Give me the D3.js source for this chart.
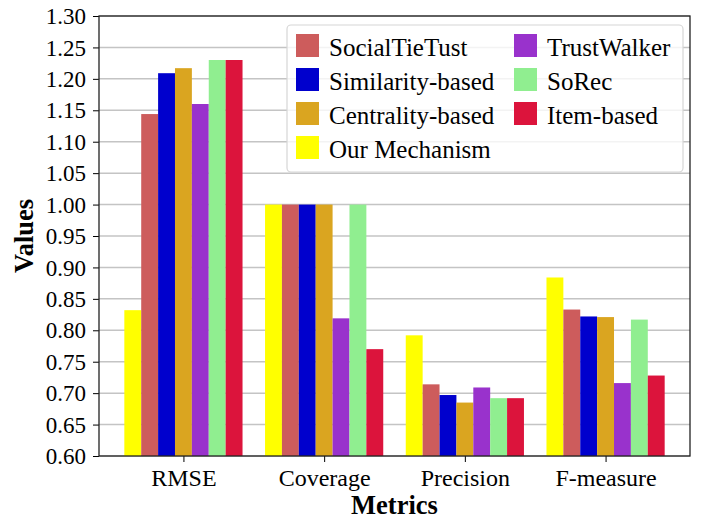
<!DOCTYPE html>
<html><head><meta charset="utf-8">
<script src="https://cdn.jsdelivr.net/npm/d3@7"></script>
<style>body{margin:0;background:#fff}svg{display:block}</style>
</head><body>
<svg id="c" width="710" height="519"></svg>
<script>
const categories = ["RMSE", "Coverage", "Precision", "F-measure"];
const seriesNames = ["Our Mechanism", "SocialTieTust", "Similarity-based", "Centrality-based", "TrustWalker", "SoRec", "Item-based"];
const seriesColors = ["#ffff00", "#cd5c5c", "#0000cd", "#daa520", "#9932cc", "#90ee90", "#dc143c"];
const ourMechanism   = [0.832, 1.000, 0.792, 0.884];
const socialTieTust  = [1.144, 1.000, 0.714, 0.833];
const similarity     = [1.209, 1.000, 0.697, 0.822];
const centrality     = [1.217, 1.000, 0.685, 0.821];
const trustWalker    = [1.160, 0.819, 0.709, 0.716];
const soRec          = [1.230, 1.000, 0.692, 0.817];
const itemBased      = [1.230, 0.770, 0.692, 0.728];
const seriesValues = [ourMechanism, socialTieTust, similarity, centrality, trustWalker, soRec, itemBased];
const legendOrder = ["SocialTieTust", "Similarity-based", "Centrality-based", "Our Mechanism", "TrustWalker", "SoRec", "Item-based"];
const yTicks = [0.60,0.65,0.70,0.75,0.80,0.85,0.90,0.95,1.00,1.05,1.10,1.15,1.20,1.25,1.30];

const svg = d3.select("#c");
const L = 99, R = 690, T = 16, B = 456;
const barW = 0.12;
const x = d3.scaleLinear().domain([-0.6, 3.6]).range([L, R]);
const y = d3.scaleLinear().domain([0.6, 1.3]).range([B, T]);
const font = "'Liberation Serif','Times New Roman',serif";

// grid
svg.append("g").selectAll("line").data(yTicks).join("line")
  .attr("x1", L).attr("x2", R).attr("y1", d => y(d)).attr("y2", d => y(d))
  .attr("stroke", "#c4c4c4").attr("stroke-width", 1.5);

// bars
const bars = [];
seriesValues.forEach((vals, s) => vals.forEach((v, i) => bars.push({s, i, v})));
svg.append("g").selectAll("rect").data(bars).join("rect")
  .attr("x", d => x(d.i + (d.s - 3) * barW - barW / 2))
  .attr("width", d => x(barW) - x(0))
  .attr("y", d => y(d.v))
  .attr("height", d => B - y(d.v))
  .attr("fill", d => seriesColors[d.s]);

// axes
const yAxis = svg.append("g").attr("transform", `translate(${L},0)`)
  .call(d3.axisLeft(y).tickValues(yTicks).tickFormat(d3.format(".2f")).tickSize(6).tickPadding(7));
const xAxis = svg.append("g").attr("transform", `translate(0,${B})`)
  .call(d3.axisBottom(x).tickValues(d3.range(categories.length)).tickFormat(i => categories[i]).tickSize(6).tickPadding(6));
[yAxis, xAxis].forEach(a => {
  a.select(".domain").remove();
  a.selectAll("text").attr("font-family", font).attr("fill", "#000");
  a.selectAll("line").attr("stroke", "#000").attr("stroke-width", 1);
});
yAxis.selectAll("text").attr("font-size", 23).attr("dy", "0.33em");
xAxis.selectAll("text").attr("font-size", 24).attr("y", 29.7).attr("dy", 0);
// frame
svg.append("rect").attr("x", L).attr("y", T).attr("width", R - L).attr("height", B - T)
  .attr("fill", "none").attr("stroke", "#222").attr("stroke-width", 1.3);

// axis titles
svg.append("text").attr("x", (L + R) / 2).attr("y", 514).attr("text-anchor", "middle")
  .attr("font-family", font).attr("font-weight", "bold").attr("font-size", 26.5).text("Metrics");
svg.append("text").attr("transform", `translate(33,${(T + B) / 2}) rotate(-90)`).attr("text-anchor", "middle")
  .attr("font-family", font).attr("font-weight", "bold").attr("font-size", 26.5).text("Values");

// legend
const lg = svg.append("g");
lg.append("rect").attr("x", 287).attr("y", 25).attr("width", 396).attr("height", 147).attr("rx", 4)
  .attr("fill", "#fff").attr("fill-opacity", 0.8).attr("stroke", "#d6d6d6").attr("stroke-width", 1.2);
legendOrder.forEach((name, k) => {
  const col = k < 4 ? 0 : 1, row = k < 4 ? k : k - 4;
  const gx = col === 0 ? 296 : 514, gy = 34 + row * 34;
  const s = seriesNames.indexOf(name);
  lg.append("rect").attr("x", gx).attr("y", gy).attr("width", 23).attr("height", 23).attr("fill", seriesColors[s]);
  lg.append("text").attr("x", gx + 33).attr("y", gy + 22).attr("font-family", font).attr("font-size", 25).text(name);
});
</script>
</body></html>
